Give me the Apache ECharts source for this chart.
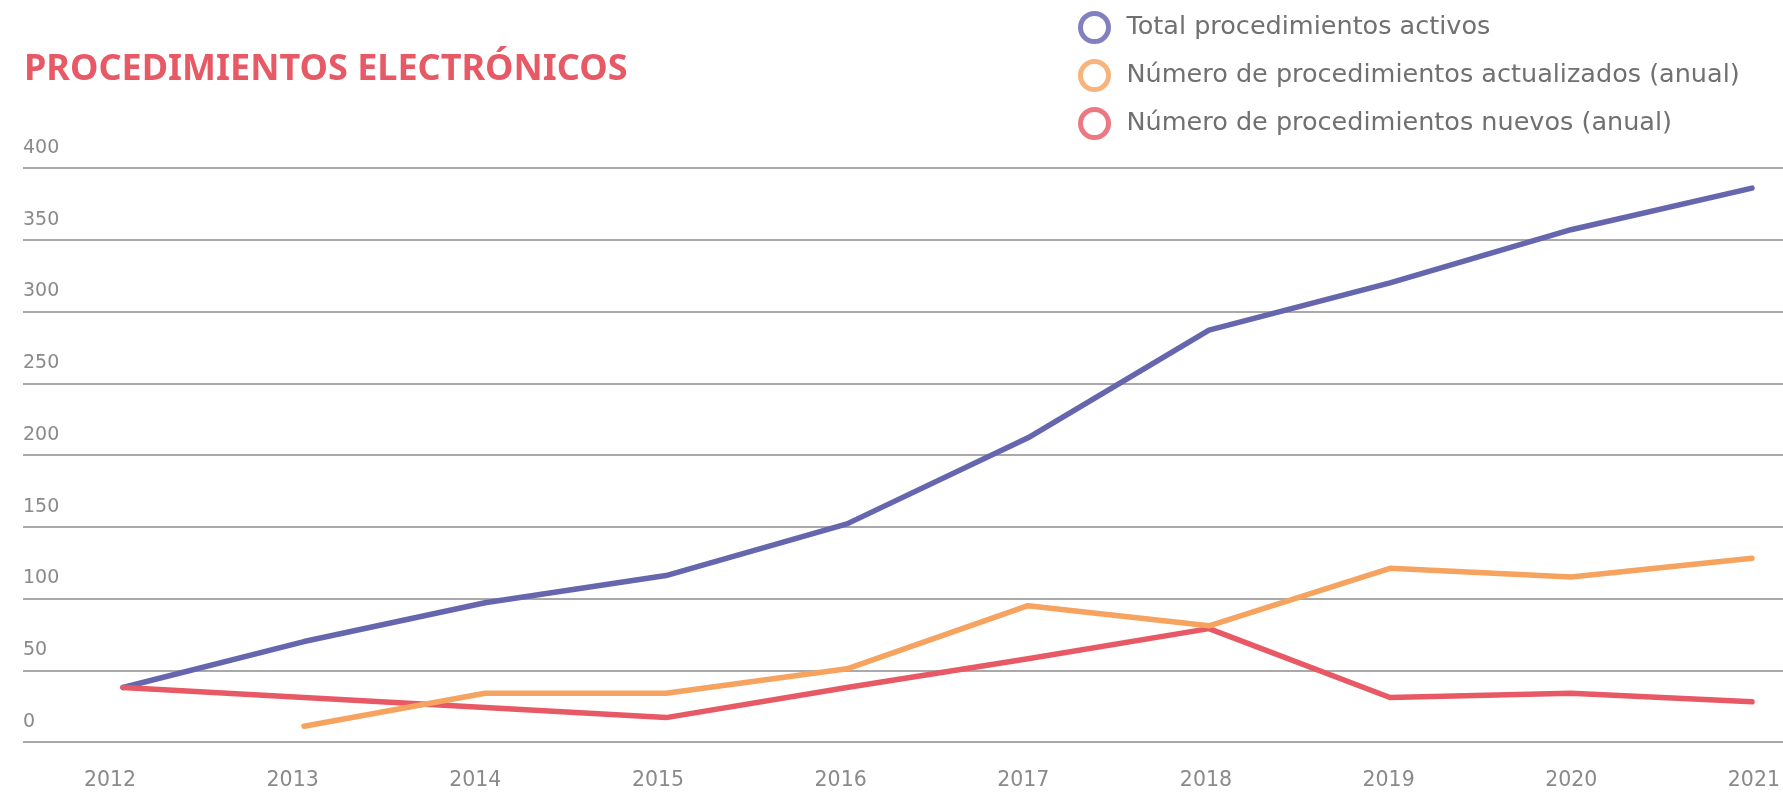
<!DOCTYPE html>
<html>
<head>
<meta charset="utf-8">
<title>Procedimientos electrónicos</title>
<script src="https://cdn.jsdelivr.net/npm/echarts@6/dist/echarts.min.js"></script>
<style>
  html, body { margin: 0; padding: 0; background: #ffffff; }
  #chart { width: 1783px; height: 796px; }
</style>
</head>
<body>
<div id="chart"></div>
<script>
// Years on the horizontal axis
const years = ['2012', '2013', '2014', '2015', '2016', '2017', '2018', '2019', '2020', '2021'];

// Series values per year
const totalActivos = [38, 70, 97, 116, 152, 212, 287, 320, 357, 386];
const actualizados = [null, 11, 34, 34, 51, 95, 81, 121, 115, 128];
const nuevos = [38, 31, 24, 17, 38, 58, 79, 31, 34, 28];

// Series names shown in the legend
const seriesNames = [
  'Total procedimientos activos',
  'Número de procedimientos actualizados (anual)',
  'Número de procedimientos nuevos (anual)'
];

// Value axis range
const yMin = 0;
const yMax = 400;
const yStep = 50;

const FONT = 'DejaVu Sans';
const TITLE_FONT = 'Noto Sans';
const lineColors = ['#6666ae', '#f5a35f', '#e85966'];
const ringColors = ['#8081be', '#f8b47c', '#ee7882'];
const labelGray = '#8a8a8a';

const chart = echarts.init(document.getElementById('chart'), null, { renderer: 'canvas' });

const gridTop = 168;
const gridBottom = 54;

chart.setOption({
  animation: false,
  backgroundColor: '#ffffff',
  title: {
    text: 'PROCEDIMIENTOS ELECTRÓNICOS',
    left: 19,
    top: 44,
    textStyle: {
      fontFamily: TITLE_FONT,
      fontSize: 36,
      fontWeight: 'bold',
      color: '#e85966',
      lineHeight: 42
    }
  },
  legend: {
    orient: 'vertical',
    left: 1078,
    top: 11,
    padding: 0,
    itemWidth: 28,
    itemHeight: 28,
    itemGap: 15,
    selectedMode: false,
    textStyle: {
      fontFamily: FONT,
      fontSize: 25.5,
      color: '#707070',
      lineHeight: 28,
      padding: [0, 0, 0, 13]
    },
    data: seriesNames.map((name, i) => ({
      name: name,
      icon: 'circle',
      itemStyle: { color: '#ffffff', borderColor: ringColors[i], borderWidth: 5 }
    }))
  },
  grid: [
    // full-width grid carrying the horizontal rules and value labels
    { left: 23, right: 0, top: gridTop, bottom: gridBottom },
    // plotting grid for the lines
    { left: 123, right: 31, top: gridTop, bottom: gridBottom },
    // grid holding the year labels
    { left: 110, right: 29, top: gridTop, bottom: gridBottom }
  ],
  xAxis: [
    { gridIndex: 0, type: 'value', min: 0, max: 1, show: false },
    {
      gridIndex: 1,
      type: 'category',
      data: years,
      boundaryGap: false,
      show: false
    },
    {
      gridIndex: 2,
      type: 'category',
      data: years,
      boundaryGap: false,
      axisLine: { show: false },
      axisTick: { show: false },
      splitLine: { show: false },
      axisLabel: {
        fontFamily: FONT,
        fontSize: 20.5,
        color: labelGray,
        margin: 27,
        lineHeight: 24
      }
    }
  ],
  yAxis: [
    {
      gridIndex: 0,
      type: 'value',
      min: yMin,
      max: yMax,
      interval: yStep,
      axisLine: { show: false },
      axisTick: { show: false },
      splitLine: { show: true, lineStyle: { color: '#8c8c8c', width: 1.5 } },
      axisLabel: {
        inside: true,
        align: 'left',
        verticalAlign: 'bottom',
        margin: 0,
        fontFamily: FONT,
        fontSize: 19,
        lineHeight: 20,
        color: labelGray,
        padding: [0, 0, 10, 0]
      }
    },
    {
      gridIndex: 1,
      type: 'value',
      min: yMin,
      max: yMax,
      interval: yStep,
      show: false,
      splitLine: { show: false }
    },
    {
      gridIndex: 2,
      type: 'value',
      min: yMin,
      max: yMax,
      interval: yStep,
      show: false,
      splitLine: { show: false }
    }
  ],
  series: [
    {
      name: seriesNames[0],
      type: 'line',
      xAxisIndex: 1,
      yAxisIndex: 1,
      data: totalActivos,
      symbol: 'none',
      z: 2,
      color: lineColors[0],
      lineStyle: { color: lineColors[0], width: 5.5, cap: 'round', join: 'round' }
    },
    {
      name: seriesNames[1],
      type: 'line',
      xAxisIndex: 1,
      yAxisIndex: 1,
      data: actualizados,
      symbol: 'none',
      z: 4,
      color: lineColors[1],
      lineStyle: { color: lineColors[1], width: 5.5, cap: 'round', join: 'round' }
    },
    {
      name: seriesNames[2],
      type: 'line',
      xAxisIndex: 1,
      yAxisIndex: 1,
      data: nuevos,
      symbol: 'none',
      z: 3,
      color: lineColors[2],
      lineStyle: { color: lineColors[2], width: 5.5, cap: 'round', join: 'round' }
    }
  ]
});
</script>
</body>
</html>
